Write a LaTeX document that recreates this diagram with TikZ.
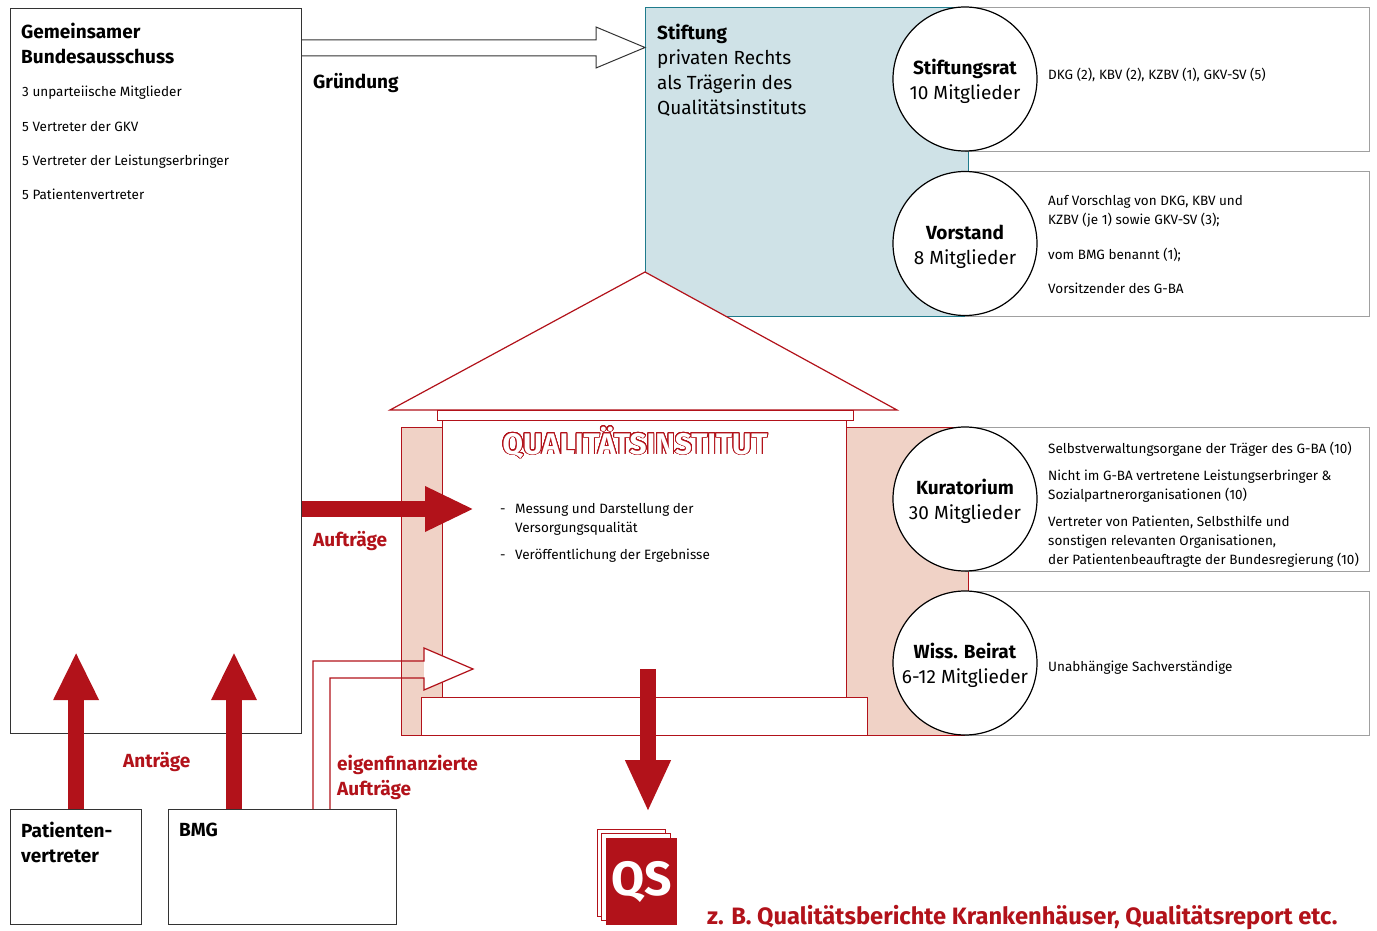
\documentclass[tikz,border=0pt]{standalone}
\usepackage{fontspec}
\setmainfont{Fira Sans}
\usepackage{contour}
\usetikzlibrary{arrows.meta, positioning, calc}

\definecolor{qired}{HTML}{B2121A}
\definecolor{qipink}{HTML}{F0D2C6}
\definecolor{qiblue}{HTML}{CFE2E7}
\definecolor{qiteal}{HTML}{1F7B8C}
\definecolor{qigray}{HTML}{A0A0A0}
\definecolor{qiblack}{HTML}{333333}

\newcommand{\qihead}{\fontsize{19}{25}\selectfont}
\newcommand{\qitext}{\fontsize{13.5}{19}\selectfont}
\newcommand{\qiup}{\rule{0pt}{21pt}}
\contourlength{0.9pt}
\contournumber{32}

\begin{document}
\begin{tikzpicture}[
    x=1pt, y=-1pt,
    % Style for the plain black frames
    frame/.style={
        rectangle,
        draw=qiblack,
        line width=1.2pt,
        fill=white,
        inner sep=0pt,
        anchor=north west
    },
    % Style for the grey boxes right of the circles
    infobox/.style={
        rectangle,
        draw=qigray,
        line width=1pt,
        fill=white,
        inner sep=0pt,
        anchor=north west
    },
    % Style for the red outlined parts of the institute
    housepart/.style={
        rectangle,
        draw=qired,
        line width=1.2pt,
        fill=white,
        inner sep=0pt,
        anchor=north west
    },
    % Style for the circles (committees)
    council/.style={
        circle,
        draw=black,
        line width=1.2pt,
        fill=white,
        minimum size=144,
        inner sep=0pt,
        align=center,
        font=\qihead
    },
    % Styles for the texts
    txt/.style={
        inner sep=0pt,
        anchor=north west,
        align=left,
        font=\qitext
    },
    headtxt/.style={
        inner sep=0pt,
        anchor=north west,
        align=left,
        font=\qihead\bfseries
    },
    redtxt/.style={
        headtxt,
        text=qired
    },
    % Style for the thick red arrows
    bigarrow/.style={
        draw=qired,
        line width=16pt,
        -{Triangle[length=48pt, width=42pt]}
    },
    % Style for the open arrows
    openarrow/.style={
        draw=qiblack,
        line width=1pt,
        fill=white
    }
]
\useasboundingbox (0,0) rectangle (1377,931);

% 1. Frames and boxes
\node[frame, minimum width=291, minimum height=725] (gba) at (10,8) {};
\node[frame, minimum width=131, minimum height=115] (pat) at (10,809) {};
\node[frame, minimum width=228, minimum height=115] (bmg) at (168,809) {};

\node[rectangle, draw=qiteal, line width=1.2pt, fill=qiblue, inner sep=0pt,
      anchor=north west, minimum width=323, minimum height=309] (stiftung) at (645,7) {};
\node[infobox, minimum width=404, minimum height=144] (ratinfo) at (965,7) {};
\node[infobox, minimum width=404, minimum height=145] (vorinfo) at (965,171) {};

% 2. The institute as a house
\node[housepart, fill=qipink, minimum width=567, minimum height=308] (wing) at (401,427) {};
\node[infobox, minimum width=404, minimum height=144] (kurinfo) at (965,427) {};
\node[infobox, minimum width=404, minimum height=144] (wissinfo) at (965,591) {};
\node[housepart, minimum width=404, minimum height=277] (body) at (442,420) {};
\draw[draw=qired, line width=1.2pt, fill=white] (390,410) -- (645,272) -- (897,410) -- cycle;
\node[housepart, minimum width=416, minimum height=10] (cornice) at (437,410) {};
\node[housepart, minimum width=446, minimum height=38] (plinth) at (421,697) {};

% 3. The committees
\node[council] (rat) at (965,79) {\qiup\textbf{Stiftungsrat}\\10 Mitglieder};
\node[council] (vorstand) at (965,243.5) {\qiup\textbf{Vorstand}\\8 Mitglieder};
\node[council] (kurat) at (965,499) {\qiup\textbf{Kuratorium}\\30 Mitglieder};
\node[council] (beirat) at (965,663) {\qiup\textbf{Wiss. Beirat}\\6-12 Mitglieder};

% 4. The QS report stack
\node[housepart, minimum width=68, minimum height=87] (qsback) at (597,829) {};
\node[housepart, minimum width=69, minimum height=87] (qsmid) at (601,833) {};
\node[housepart, fill=qired, minimum width=70, minimum height=86, text=white,
      font=\fontsize{48}{48}\selectfont\bfseries] (qsfront) at (606,838) {QS};

% 5. Arrows
\coordinate (grtip) at (645,47.5);
\draw[openarrow] (gba.east |- 0,40) -- ($(grtip)+(-49,-7.5)$) -- ++(0,-13) -- (grtip)
    -- ++(-49,20.5) -- ++(0,-12) -- (gba.east |- 0,56);

\coordinate (auftip) at (474,509);
\draw[bigarrow, -{Triangle[length=49pt, width=42pt]}] (gba.east |- auftip) -- (auftip);

\draw[bigarrow] (pat.north) -- (pat.north |- 0,652);
\draw[bigarrow] ($(bmg.north west)+(66,0)$) -- ++(0,-157);

\coordinate (eigentip) at (473,669);
\fill[white] (eigentip) -- ++(-49,-21) -- ++(0,42) -- cycle;
\draw[draw=qired, line width=1.2pt] ($(bmg.north west)+(145,0)$) |- ($(eigentip)+(-49,-8)$)
    -- ++(0,-13) -- (eigentip) -- ++(-49,21) -- ++(0,-12) -| ($(bmg.north west)+(162,0)$);

\coordinate (qsstart) at (648,669);
\coordinate (qstip) at (648,812);
\draw[bigarrow, -{Triangle[length=52pt, width=42pt]}] (qsstart) -- (qstip);

% 6. Texts
\node[headtxt] (gbatitle) at (21,23) {Gemeinsamer\\Bundesausschuss};
\node[txt] (gbamembers) at (22,86) {3 unparteiische Mitglieder\\[15.3pt]5 Vertreter der GKV\\[15.3pt]5 Vertreter der Leistungserbringer\\[15.3pt]5 Patientenvertreter};
\node[headtxt, anchor=base west] (gruendung) at (313,89) {Gründung};

\node[txt, font=\qihead] (stifttext) at (657,24) {\textbf{Stiftung}\\privaten Rechts\\als Trägerin des\\Qualitätsinstituts};
\node[txt] (ratlist) at (1048,68.3) {DKG (2), KBV (2), KZBV (1), GKV-SV (5)};
\node[txt] (vorlist) at (1048,195.3) {Auf Vorschlag von DKG, KBV und\\KZBV (je 1) sowie GKV-SV (3);\\[16pt]vom BMG benannt (1);\\[15pt]Vorsitzender des G-BA};
\node[txt] (kurlist) at (1048,442.3) {Selbstverwaltungsorgane der Träger des G-BA (10)\\[8pt]Nicht im G-BA vertretene Leistungserbringer \&\\Sozialpartnerorganisationen (10)\\[8pt]Vertreter von Patienten, Selbsthilfe und\\sonstigen relevanten Organisationen,\\der Patientenbeauftragte der Bundesregierung (10)};
\node[txt] (wisslist) at (1048,660.3) {Unabhängige Sachverständige};

\node[anchor=base, inner sep=0pt, font=\fontsize{29.7}{29.7}\selectfont\bfseries] (qititle) at (635,454)
    {\contour{qired}{\textcolor{white}{QUALITÄTSINSTITUT}}};
\node[txt] (tasks) at (500,503.3) {\makebox[15pt][l]{-}Messung und Darstellung der\\\hspace*{15pt}Versorgungsqualität\\[8pt]\makebox[15pt][l]{-}Veröffentlichung der Ergebnisse};

\node[redtxt, anchor=base west] (auftlabel) at (313,546.5) {Aufträge};
\node[redtxt, anchor=base west] (antlabel) at (123,767.5) {Anträge};
\node[redtxt] (eigenlabel) at (337,754.5) {eigenfinanzierte\\Aufträge};
\node[headtxt] (pattext) at (21,822) {Patienten-\\vertreter};
\node[headtxt, anchor=base west] (bmgtext) at (179,836.5) {BMG};
\node[redtxt, anchor=base west, font=\fontsize{23.7}{23.7}\selectfont\bfseries] (qsnote) at (707,924)
    {z. B. Qualitätsberichte Krankenhäuser, Qualitätsreport etc.};

\end{tikzpicture}
\end{document}
